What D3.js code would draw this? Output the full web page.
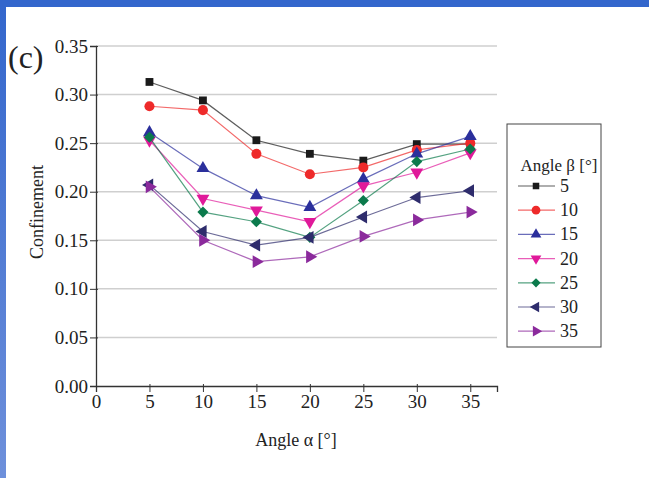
<!DOCTYPE html>
<html>
<head>
<meta charset="utf-8">
<script src="https://cdn.jsdelivr.net/npm/d3@7"></script>
<style>
  body { margin: 0; background: #fff; }
  svg text { font-family: "Liberation Serif", "Times New Roman", serif; fill: #222; }
</style>
</head>
<body>
<div id="chart"></div>
<script>
// données
var alphas = [5, 10, 15, 20, 25, 30, 35];
var betas = ["5", "10", "15", "20", "25", "30", "35"];
var beta5  = [0.313, 0.294, 0.253, 0.239, 0.232, 0.249, 0.249];
var beta10 = [0.288, 0.284, 0.239, 0.218, 0.225, 0.243, 0.250];
var beta15 = [0.261, 0.224, 0.196, 0.184, 0.213, 0.239, 0.257];
var beta20 = [0.253, 0.193, 0.181, 0.169, 0.206, 0.220, 0.240];
var beta25 = [0.256, 0.179, 0.169, 0.153, 0.191, 0.231, 0.244];
var beta30 = [0.207, 0.159, 0.145, 0.153, 0.174, 0.194, 0.201];
var beta35 = [0.205, 0.150, 0.128, 0.133, 0.154, 0.171, 0.179];
var yTicks = [0, 0.05, 0.10, 0.15, 0.20, 0.25, 0.30, 0.35];
var xTicks = [0, 5, 10, 15, 20, 25, 30, 35];

var series = [beta5, beta10, beta15, beta20, beta25, beta30, beta35];
var colors = ["#1a1a1a", "#ee2a2a", "#2b2f9c", "#e0199a", "#0b7a4c", "#2e2c6c", "#8b2a9c"];
var shapes = ["square", "circle", "up", "down", "diamond", "left", "right"];

var W = 649, H = 478;
var serif = "'Liberation Serif', 'Times New Roman', serif";
var svg = d3.select("#chart").append("svg").attr("width", W).attr("height", H);

// cadre bleu
var grad = svg.append("defs").append("linearGradient")
    .attr("id", "bleu").attr("x1", 0).attr("y1", 0).attr("x2", 0).attr("y2", 1);
grad.append("stop").attr("offset", "0%").attr("stop-color", "#3366cc");
grad.append("stop").attr("offset", "100%").attr("stop-color", "#6e90db");
svg.append("rect").attr("x", 0).attr("y", 0).attr("width", 6).attr("height", H).attr("fill", "url(#bleu)");
svg.append("rect").attr("x", 0).attr("y", 0).attr("width", W).attr("height", 7).attr("fill", "#3366cc");

// échelles
var x = d3.scaleLinear().domain([0, 37.5]).range([96, 497]);
var y = d3.scaleLinear().domain([0, 0.35]).range([386, 46]);

// grille
svg.append("g").selectAll("line")
    .data(yTicks.filter(function(d) { return d > 0; }))
    .enter().append("line")
    .attr("x1", x(0)).attr("x2", x(37.5))
    .attr("y1", function(d) { return y(d); })
    .attr("y2", function(d) { return y(d); })
    .attr("stroke", "#cfcfcf").attr("stroke-width", 1.5);

// axes
var gx = svg.append("g").attr("transform", "translate(0," + y(0) + ")");
gx.call(d3.axisBottom(x).tickValues(d3.range(0, 37.6, 2.5)).tickSize(4).tickFormat(""));
gx.call(d3.axisBottom(x).tickValues(xTicks).tickSize(6).tickPadding(3).tickFormat(d3.format("d")));
gx.attr("font-family", serif).attr("font-size", 19);
gx.selectAll("path.domain").attr("stroke", "#333").attr("stroke-width", 1.3);
gx.selectAll("line").attr("stroke", "#333").attr("y1", -2);
gx.selectAll("text").attr("fill", "#222");

var gy = svg.append("g").attr("transform", "translate(" + x(0) + ",0)");
gy.call(d3.axisLeft(y).tickValues(d3.range(0, 0.351, 0.025)).tickSize(4).tickFormat(""));
gy.call(d3.axisLeft(y).tickValues(yTicks).tickSize(6).tickPadding(2).tickFormat(d3.format(".2f")));
gy.attr("font-family", serif).attr("font-size", 19);
gy.selectAll("path.domain").attr("stroke", "#333").attr("stroke-width", 1.3);
gy.selectAll("line").attr("stroke", "#333").attr("x1", 2);
gy.selectAll("text").attr("fill", "#222");

// titres
svg.append("text").attr("x", 8).attr("y", 68).style("font-size", "32px").text("(c)");
svg.append("text").attr("x", 296).attr("y", 446).attr("text-anchor", "middle")
    .style("font-size", "18px").text("Angle α [°]");
svg.append("text").attr("transform", "translate(43,212) rotate(-90)")
    .attr("text-anchor", "middle").style("font-size", "18px").text("Confinement");

// symboles
function marker(s, size) {
    if (s === "square" || s === "diamond") return d3.symbol().type(d3.symbolSquare).size(size * 0.85)();
    if (s === "circle") return d3.symbol().type(d3.symbolCircle).size(size)();
    return d3.symbol().type(d3.symbolTriangle).size(size)();
}
function rot(s) {
    return s === "down" ? 180 : s === "left" ? -90 : s === "right" ? 90 : s === "diamond" ? 45 : 0;
}

var line = d3.line()
    .x(function(d, i) { return x(alphas[i]); })
    .y(function(d) { return y(d); });

series.forEach(function(vals, k) {
    var g = svg.append("g");
    g.append("path")
        .attr("d", line(vals))
        .attr("fill", "none")
        .attr("stroke", colors[k])
        .attr("stroke-opacity", 0.7)
        .attr("stroke-width", 1.2);
    g.selectAll("path.pt")
        .data(vals)
        .enter().append("path")
        .attr("class", "pt")
        .attr("d", marker(shapes[k], shapes[k] === "circle" ? 80 : 72))
        .attr("transform", function(d, i) {
            return "translate(" + x(alphas[i]) + "," + y(d) + ") rotate(" + rot(shapes[k]) + ")";
        })
        .attr("fill", colors[k]);
});

// légende
var leg = svg.append("g");
leg.append("rect").attr("x", 507).attr("y", 124).attr("width", 94).attr("height", 223)
    .attr("fill", "#fff").attr("stroke", "#444").attr("stroke-width", 1);
leg.append("text").attr("x", 559).attr("y", 171).attr("text-anchor", "middle")
    .style("font-size", "17px").text("Angle β [°]");
betas.forEach(function(b, k) {
    var yy = 186 + k * 24.2;
    leg.append("line").attr("x1", 518).attr("x2", 555).attr("y1", yy).attr("y2", yy)
        .attr("stroke", colors[k]).attr("stroke-opacity", 0.7).attr("stroke-width", 1.2);
    leg.append("path")
        .attr("d", marker(shapes[k], shapes[k] === "circle" ? 60 : 50))
        .attr("transform", "translate(536," + yy + ") rotate(" + rot(shapes[k]) + ")")
        .attr("fill", colors[k]);
    leg.append("text").attr("x", 560).attr("y", yy + 6)
        .style("font-size", "18px").text(b);
});
</script>
</body>
</html>
